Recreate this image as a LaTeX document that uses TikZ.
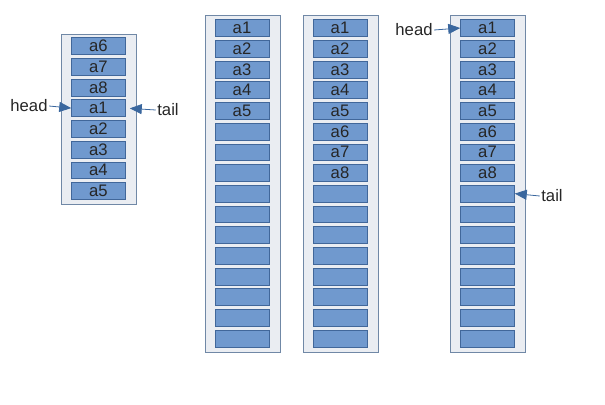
\documentclass[tikz,border=0pt]{standalone}
\usepackage{fontspec}
\setmainfont{Liberation Sans}
\usepackage{tikz}
\usetikzlibrary{arrows.meta,positioning,calc}
\definecolor{slotfill}{HTML}{7099CE}
\definecolor{slotline}{HTML}{41679A}
\definecolor{bankfill}{HTML}{EAEDF2}
\definecolor{bankline}{HTML}{7088A6}
\definecolor{ptrblue}{HTML}{3A679E}
\tikzset{
    bank/.style={
        rectangle,
        draw=bankline,
        fill=bankfill,
        minimum width=56.25pt,
        inner sep=0pt,
    },
    slot/.style={
        rectangle,
        draw=slotline,
        fill=slotfill,
        minimum width=40.5pt,
        minimum height=12.6pt,
        inner sep=0pt,
        font=\fontsize{12.5}{14}\selectfont,
        text=black!85,
    },
    tag/.style={
        font=\fontsize{12.5}{14}\selectfont,
        text=black!85,
        inner sep=1pt,
    },
    ptr/.style={
        draw=ptrblue,
        -{Triangle[length=9pt,width=7.5pt]},
        semithick,
        ptrblue,
    },
}

\begin{document}
\begin{tikzpicture}[x=0.75pt,y=-0.75pt]
                \useasboundingbox (0,0) rectangle (605,404);
                % the four banks
                \node [bank, minimum height=127.5pt] (BL) at (98.5,119) {};
                \node [bank, minimum height=252.75pt] (BA) at (242.5,183.5) {};
                \node [bank, minimum height=252.75pt] (BB) at (340.5,183.5) {};
                \node [bank, minimum height=252.75pt] (BR) at (488,183.5) {};

                % wrapped queue
                \foreach \t [count=\i] in {a6,a7,a8,a1,a2,a3,a4,a5}
                    \node [slot] (L\i) at (98.5,{46+20.7*(\i-1)}) {\t};

                % long queues
                \foreach \i in {1,...,16} {
                    \node [slot] (A\i) at (242,{28+20.7*(\i-1)}) {\ifnum\i<6 a\i\fi};
                    \node [slot] (B\i) at (340,{28+20.7*(\i-1)}) {\ifnum\i<9 a\i\fi};
                    \node [slot] (R\i) at (487.5,{28+20.7*(\i-1)}) {\ifnum\i<9 a\i\fi};
                }

                % pointers
                \node [tag] (headL) at (29,106) {head};
                \node [tag] (tailL) at (168,110) {tail};
                \node [tag] (headR) at (414,30) {head};
                \node [tag] (tailR) at (552,196) {tail};

                \draw [ptr] (headL.east) -- (L4.west);
                \draw [ptr, shorten >=3pt] (tailL.west) -- (L4.east);
                \draw [ptr] (headR.east) -- (R1.west);
                \draw [ptr] (tailR.west) -- (R9.east);
            \end{tikzpicture}
\end{document}
